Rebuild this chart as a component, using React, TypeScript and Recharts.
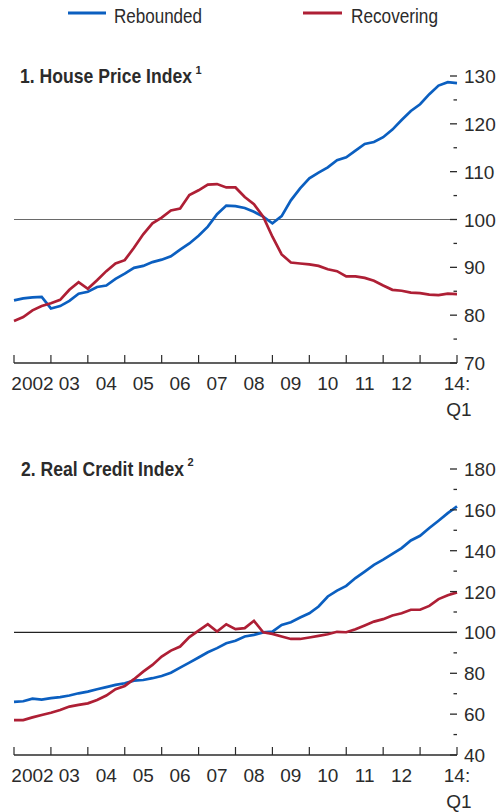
import React from 'react';
import { LineChart, Line, XAxis, YAxis, ReferenceLine } from 'recharts';

// quarterly, 2002:Q1 .. 2014:Q1 (index 0..48)
const houseRebounded = [
  83.1, 83.5, 83.7, 83.8, 81.4, 81.9, 83.0, 84.5, 84.9, 85.9, 86.2, 87.6, 88.7,
  89.9, 90.3, 91.1, 91.6, 92.3, 93.7, 95.0, 96.6, 98.5, 101.1, 102.9, 102.8, 102.4,
  101.6, 100.6, 99.2, 100.7, 104.0, 106.5, 108.6, 109.8, 110.9, 112.4, 113.0, 114.4,
  115.8, 116.2, 117.2, 118.8, 120.8, 122.7, 124.1, 126.2, 128.0, 128.7, 128.5,
];
const houseRecovering = [
  78.8, 79.6, 81.0, 81.9, 82.5, 83.2, 85.3, 86.9, 85.5, 87.3, 89.2, 90.8, 91.5,
  94.1, 96.9, 99.2, 100.4, 101.9, 102.3, 105.1, 106.1, 107.3, 107.4, 106.7, 106.7, 104.7,
  103.2, 100.6, 96.4, 92.7, 91.0, 90.8, 90.6, 90.3, 89.6, 89.2, 88.1, 88.1,
  87.8, 87.2, 86.2, 85.3, 85.1, 84.7, 84.6, 84.3, 84.2, 84.5, 84.4,
];
const creditRebounded = [
  66.0, 66.3, 67.6, 67.1, 67.8, 68.3, 69.1, 70.2, 71.0, 72.2, 73.2, 74.3, 75.1,
  76.4, 76.7, 77.6, 78.7, 80.3, 82.8, 85.2, 87.7, 90.3, 92.3, 94.7, 95.9, 98.0,
  98.8, 100.0, 100.4, 103.7, 105.0, 107.3, 109.4, 112.7, 117.6, 120.5, 122.8, 126.6,
  129.8, 133.1, 135.6, 138.5, 141.3, 145.0, 147.3, 151.1, 154.7, 158.4, 161.7,
];
const creditRecovering = [
  57.1, 57.1, 58.4, 59.6, 60.7, 62.0, 63.7, 64.5, 65.3, 66.9, 69.1, 72.2, 73.8,
  77.1, 80.8, 84.1, 88.2, 91.1, 93.1, 97.7, 100.9, 104.0, 100.4, 104.0, 101.6, 102.1,
  105.7, 100.1, 99.3, 98.0, 96.8, 96.8, 97.5, 98.3, 99.1, 100.3, 100.1, 101.6,
  103.4, 105.3, 106.5, 108.3, 109.4, 111.1, 111.1, 113.0, 116.3, 118.2, 119.6,
];

const yearLabels = ['2002', '03', '04', '05', '06', '07', '08', '09', '10', '11', '12'];
const lastLabel = ['14:', 'Q1'];
const houseTicks = [70, 75, 80, 85, 90, 95, 100, 105, 110, 115, 120, 125, 130];
const creditTicks = [40, 50, 60, 70, 80, 90, 100, 110, 120, 130, 140, 150, 160, 170, 180];

const BLUE = '#0b5fc0';
const RED = '#ae1f35';
const INK = '#2b2b2b';
const FONT = '"Liberation Sans", Arial, sans-serif';

const toRows = (a: number[], b: number[]) =>
  a.map((v, i) => ({ q: i, rebounded: v, recovering: b[i] }));

const houseData = toRows(houseRebounded, houseRecovering);
const creditData = toRows(creditRebounded, creditRecovering);

// every half year: multiples of 4 get a tick mark, the others carry the year label
const xTicks = Array.from({ length: 25 }, (_, i) => i * 2);

const XTick = (props: any) => {
  const { x, y, payload } = props;
  const v = payload.value as number;
  return (
    <g>
      {v % 4 === 0 && <line x1={x} x2={x} y1={y} y2={y - 8} stroke={INK} strokeWidth={1.2} />}
      {v % 4 === 2 && yearLabels[(v - 2) / 4] && (
        <text x={x} y={y + 27} textAnchor="middle" fontSize={19} fill={INK} fontFamily={FONT}>
          {yearLabels[(v - 2) / 4]}
        </text>
      )}
      {v === 48 && (
        <text x={x} y={y + 27} textAnchor="middle" fontSize={19} fill={INK} fontFamily={FONT}>
          <tspan x={x}>{lastLabel[0]}</tspan>
          <tspan x={x + 2} dy={26}>{lastLabel[1]}</tspan>
        </text>
      )}
    </g>
  );
};

const makeLeftTick = (step: number) => (props: any) => {
  const { x, y, payload } = props;
  const major = payload.value % step === 0;
  return <line x1={x} x2={x + (major ? 7 : 3.5)} y1={y} y2={y} stroke={INK} strokeWidth={1.3} />;
};

const makeRightTick = (step: number) => (props: any) => {
  const { x, y, payload } = props;
  const major = payload.value % step === 0;
  return (
    <g>
      <line x1={x - (major ? 7 : 3.5)} x2={x} y1={y} y2={y} stroke={INK} strokeWidth={1.3} />
      {major && (
        <text x={x + 7} y={y} dy={7} textAnchor="start" fontSize={19} fill={INK} fontFamily={FONT}>
          {payload.value}
        </text>
      )}
    </g>
  );
};

interface PanelProps {
  data: { q: number; rebounded: number; recovering: number }[];
  height: number;
  top: number;
  domain: [number, number];
  ticks: number[];
  step: number;
  refColor: string;
}

const Panel: React.FC<PanelProps> = ({ data, height, top, domain, ticks, step, refColor }) => (
  <LineChart width={496} height={height} data={data} margin={{ top, right: 0, bottom: 0, left: 14 }}>
    <XAxis
      dataKey="q"
      type="number"
      domain={[0, 48]}
      ticks={xTicks}
      interval={0}
      tick={XTick}
      tickLine={false}
      tickSize={0}
      tickMargin={0}
      height={57}
      axisLine={{ stroke: INK, strokeWidth: 1.3 }}
    />
    <YAxis
      yAxisId="left"
      orientation="left"
      width={0}
      domain={domain}
      ticks={ticks}
      interval={0}
      tick={makeLeftTick(step)}
      tickLine={false}
      tickSize={0}
      tickMargin={0}
      axisLine={false}
    />
    <YAxis
      yAxisId="right"
      orientation="right"
      width={39}
      domain={domain}
      ticks={ticks}
      interval={0}
      tick={makeRightTick(step)}
      tickLine={false}
      tickSize={0}
      tickMargin={0}
      axisLine={false}
    />
    <ReferenceLine yAxisId="right" y={100} stroke={refColor} strokeWidth={1.2} />
    <Line yAxisId="right" dataKey="rebounded" stroke={BLUE} strokeWidth={2.7} dot={false} isAnimationActive={false} />
    <Line yAxisId="right" dataKey="recovering" stroke={RED} strokeWidth={2.7} dot={false} isAnimationActive={false} />
  </LineChart>
);

export default function App() {
  return (
    <div style={{ position: 'absolute', left: 0, top: 0, width: 496, height: 812, background: '#fff', fontFamily: FONT }}>
      <div style={{ position: 'absolute', left: 0, top: 0 }}>
        <Panel data={houseData} height={420} top={76} domain={[70, 130]} ticks={houseTicks} step={10} refColor="#6a6a6a" />
      </div>
      <div style={{ position: 'absolute', left: 0, top: 420 }}>
        <Panel data={creditData} height={392} top={49} domain={[40, 180]} ticks={creditTicks} step={20} refColor="#222" />
      </div>
      <svg width={496} height={812} style={{ position: 'absolute', left: 0, top: 0, pointerEvents: 'none' }}>
        <line x1={68} x2={106} y1={13} y2={13} stroke={BLUE} strokeWidth={3} />
        <text x={114} y={22.5} fontSize={21} fill={INK} fontFamily={FONT} textLength={88} lengthAdjust="spacingAndGlyphs">Rebounded</text>
        <line x1={303} x2={342} y1={13} y2={13} stroke={RED} strokeWidth={3} />
        <text x={351} y={22.5} fontSize={21} fill={INK} fontFamily={FONT} textLength={87} lengthAdjust="spacingAndGlyphs">Recovering</text>
        <text x={20} y={83} fontSize={21} fontWeight="bold" fill={INK} fontFamily={FONT} textLength={172} lengthAdjust="spacingAndGlyphs">
          1. House Price Index
        </text>
        <text x={195.5} y={74} fontSize={11} fontWeight="bold" fill={INK} fontFamily={FONT}>1</text>
        <text x={21} y={476} fontSize={21} fontWeight="bold" fill={INK} fontFamily={FONT} textLength={163} lengthAdjust="spacingAndGlyphs">
          2. Real Credit Index
        </text>
        <text x={187.5} y={466} fontSize={11} fontWeight="bold" fill={INK} fontFamily={FONT}>2</text>
      </svg>
    </div>
  );
}
